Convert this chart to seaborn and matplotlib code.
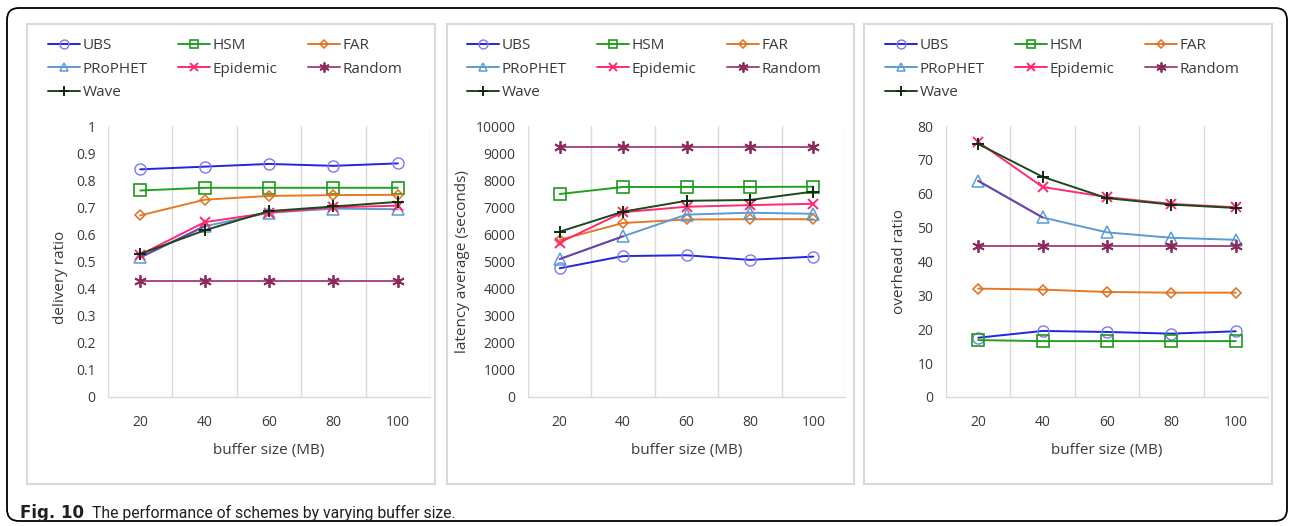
import numpy as np
import pandas as pd
import matplotlib
matplotlib.use("Agg")
import matplotlib.pyplot as plt
from matplotlib.lines import Line2D
from matplotlib.patches import Rectangle, FancyBboxPatch
from matplotlib.transforms import IdentityTransform
from matplotlib.ticker import FuncFormatter, MultipleLocator
import seaborn as sns

# ---------------- data ----------------
buffer_sizes = [20, 40, 60, 80, 100]
schemes = ["UBS", "HSM", "FAR", "PRoPHET", "Epidemic", "Random", "Wave"]

delivery_ubs = [0.84, 0.85, 0.86, 0.853, 0.862]
delivery_hsm = [0.762, 0.772, 0.772, 0.772, 0.772]
delivery_far = [0.67, 0.728, 0.742, 0.745, 0.746]
delivery_prophet = [0.515, 0.63, 0.68, 0.695, 0.693]
delivery_epidemic = [0.525, 0.645, 0.68, 0.70, 0.706]
delivery_random = [0.428, 0.428, 0.428, 0.428, 0.428]
delivery_wave = [0.528, 0.615, 0.686, 0.703, 0.72]

latency_ubs = [4750, 5200, 5230, 5060, 5180]
latency_hsm = [7490, 7750, 7750, 7750, 7760]
latency_far = [5800, 6420, 6550, 6560, 6560]
latency_prophet = [5090, 5930, 6730, 6800, 6760]
latency_epidemic = [5700, 6820, 7020, 7080, 7130]
latency_random = [9240, 9240, 9240, 9240, 9240]
latency_wave = [6100, 6840, 7240, 7270, 7580]

overhead_ubs = [17.5, 19.5, 19.2, 18.7, 19.4]
overhead_hsm = [16.8, 16.5, 16.5, 16.5, 16.5]
overhead_far = [32.0, 31.7, 31.0, 30.8, 30.8]
overhead_prophet = [63.8, 53.0, 48.6, 47.0, 46.4]
overhead_epidemic = [75.3, 62.0, 59.0, 57.0, 56.0]
overhead_random = [44.5, 44.5, 44.5, 44.5, 44.5]
overhead_wave = [74.7, 65.0, 58.7, 56.8, 55.8]

y_labels = ["delivery ratio", "latency average (seconds)", "overhead ratio"]
x_label = "buffer size (MB)"
caption_bold = "Fig. 10"
caption_text = "The performance of schemes by varying buffer size."

panels = [
    dict(values=[delivery_ubs, delivery_hsm, delivery_far, delivery_prophet,
                 delivery_epidemic, delivery_random, delivery_wave],
         ymax=1.0, ystep=0.1),
    dict(values=[latency_ubs, latency_hsm, latency_far, latency_prophet,
                 latency_epidemic, latency_random, latency_wave],
         ymax=10000, ystep=1000),
    dict(values=[overhead_ubs, overhead_hsm, overhead_far, overhead_prophet,
                 overhead_epidemic, overhead_random, overhead_wave],
         ymax=80, ystep=10),
]

# ---------------- styles ----------------
styles = {
    "UBS":      dict(color="#2424DC", mec="#7A7AF0", marker="o", ms=8, mew=1.0),
    "HSM":      dict(color="#23A023", mec="#1E9A1E", marker="s", ms=8, mew=1.2),
    "FAR":      dict(color="#E47A26", mec="#E07020", marker="D", ms=5.5, mew=1.1),
    "PRoPHET":  dict(color="#5B9BD5", mec="#5B9BD5", marker="^", ms=8, mew=1.1),
    "Epidemic": dict(color="#FF2A72", mec="#FF2A72", marker="x", ms=7.5, mew=1.4),
    "Random":   dict(color="#A8497E", mec="#8C2A5E", marker=(6, 2, 0), ms=9, mew=1.3),
    "Wave":     dict(color="#1C481C", mec="#0F2A0F", marker="+", ms=9, mew=1.4),
}
prophet_first_seg_color = "#7040A8"

W, H = 1290, 526
text_color = "#3A3A3A"

sns.set_theme(style="white")
plt.rcParams["font.family"] = ["Open Sans", "DejaVu Sans"]
plt.rcParams["text.color"] = text_color
plt.rcParams["axes.labelcolor"] = text_color
plt.rcParams["xtick.color"] = text_color
plt.rcParams["ytick.color"] = text_color

fig = plt.figure(figsize=(W / 100, H / 100), dpi=100)
fig.patch.set_facecolor("white")

# outer rounded frame
fig.patches.append(FancyBboxPatch((7, H - 521), 1280, 513,
                                  boxstyle="round,pad=0,rounding_size=12",
                                  transform=IdentityTransform(), fill=False,
                                  ec="black", lw=1.3, figure=fig))

panel_boxes = [(27, 24, 435, 484), (447, 24, 854, 484), (864, 24, 1272, 484)]
for (x0, y0, x1, y1) in panel_boxes:
    fig.patches.append(Rectangle((x0 / W, 1 - y1 / H), (x1 - x0) / W, (y1 - y0) / H,
                                 transform=fig.transFigure, fill=False,
                                 ec="#D9D9D9", lw=1.5, figure=fig))

axes_px = [(108, 430), (528, 845), (946, 1268)]
top_px, bot_px = 126, 397
legend_x = [48, 467, 885]
ylabel_x = [60, 462, 900]
ylabel_y = [0.44, 0.5, 0.5]

positions = list(range(len(buffer_sizes)))

for i, p in enumerate(panels):
    l, r = axes_px[i]
    ax = fig.add_axes([l / W, 1 - bot_px / H, (r - l) / W, (bot_px - top_px) / H])
    handles = {}
    for name, vals in zip(schemes, p["values"]):
        st = styles[name]
        df = pd.DataFrame({"pos": positions, "val": vals})
        sns.lineplot(data=df, x="pos", y="val", ax=ax, color=st["color"],
                     marker=st["marker"], markersize=st["ms"],
                     markerfacecolor="none", markeredgecolor=st["mec"],
                     markeredgewidth=st["mew"], linewidth=1.4, legend=False)
        if name == "PRoPHET":
            seg = df.iloc[:2]
            sns.lineplot(data=seg, x="pos", y="val", ax=ax,
                         color=prophet_first_seg_color, linewidth=1.4,
                         legend=False)
        handles[name] = Line2D([], [], color=st["color"], marker=st["marker"],
                               markersize=st["ms"] * 0.8, markerfacecolor="none",
                               markeredgecolor=st["mec"],
                               markeredgewidth=st["mew"], linewidth=1.4)
    ax.set_xlim(-0.5, len(buffer_sizes) - 0.5)
    ax.set_ylim(0, p["ymax"])
    ax.yaxis.set_major_locator(MultipleLocator(p["ystep"]))
    ax.yaxis.set_major_formatter(FuncFormatter(lambda v, _: f"{v:g}"))
    ax.set_xticks(positions)
    ax.set_xticklabels([str(b) for b in buffer_sizes])
    ax.set_xticks(np.arange(-0.5, len(buffer_sizes)), minor=True)
    ax.grid(which="minor", axis="x", color="#D9D9D9", lw=1.0)
    ax.grid(which="major", axis="both", visible=False)
    ax.tick_params(axis="both", which="both", length=0, labelsize=10)
    ax.tick_params(axis="y", pad=9)
    ax.tick_params(axis="x", pad=13)
    for s in ["left", "top", "right"]:
        ax.spines[s].set_visible(False)
    ax.spines["bottom"].set_color("#D9D9D9")
    ax.spines["bottom"].set_linewidth(1.0)
    ax.set_xlabel(x_label, fontsize=11, labelpad=9)
    ax.set_ylabel(y_labels[i], fontsize=11)
    ax.yaxis.set_label_coords((ylabel_x[i] - l) / (r - l), ylabel_y[i])
    ax.yaxis.label.set_verticalalignment("center")

    order = ["UBS", "PRoPHET", "Wave", "HSM", "Epidemic", "FAR", "Random"]
    leg = ax.legend([handles[n] for n in order], order, loc="upper left",
                    bbox_to_anchor=(legend_x[i] / W, 1 - 38 / H),
                    bbox_transform=fig.transFigure, ncol=3, frameon=False,
                    fontsize=11, handlelength=2.1, handletextpad=0.15,
                    columnspacing=2.0, labelspacing=0.56, borderpad=0,
                    borderaxespad=0, numpoints=1)

fig.text(20 / W, 1 - 513 / H, caption_bold, fontsize=12, fontweight="bold",
         va="center", ha="left", color="#202020",
         family=["DejaVu Sans"])
fig.text(92 / W, 1 - 513 / H, caption_text, fontsize=11.3,
         va="center", ha="left", color="#202020",
         family=["Roboto", "DejaVu Sans"])

fig.savefig("out.png", dpi=100)
